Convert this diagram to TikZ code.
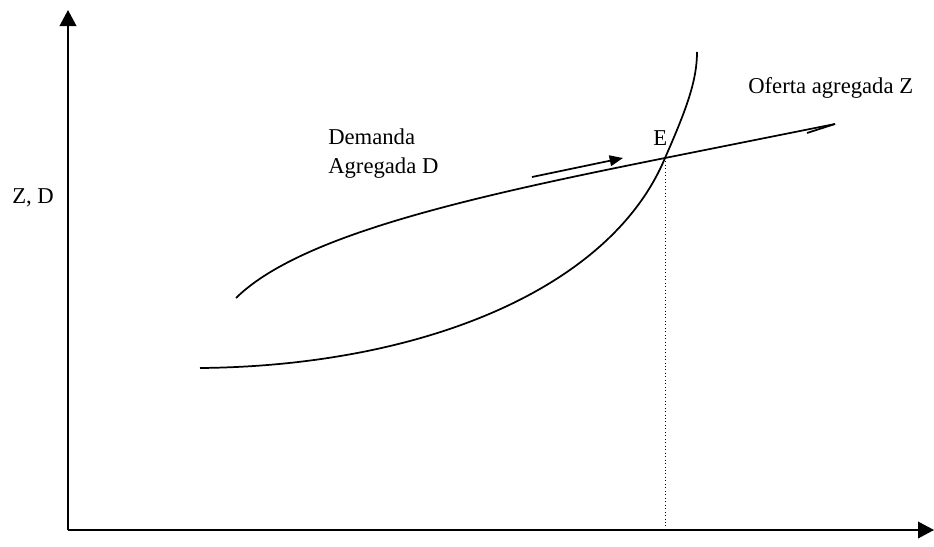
\documentclass[tikz,border=0pt]{standalone}
\usepackage{fontspec}
\setmainfont{Liberation Serif}
\usetikzlibrary{arrows.meta, positioning, calc}

\begin{document}
\begin{tikzpicture}[
    x=0.75pt, y=-0.75pt,
    axis/.style={-{Triangle[length=12pt, width=12.5pt]}, line width=1.2pt},
    curve/.style={line width=1.3pt},
    push/.style={-{Triangle[length=10pt, width=8pt]}, line width=1.3pt},
    guide/.style={dotted, line width=0.6pt},
    label/.style={inner sep=0pt, align=left, font=\fontsize{17}{21.75}\selectfont}
]
\useasboundingbox (0,0) rectangle (934,546);

% Axes
\coordinate (origin) at (68,530);
\coordinate (ytop) at (68,10);
\coordinate (xend) at (934,530);
\draw[axis] (origin) -- (ytop);
\draw[axis] (origin) -- (xend);
\draw[line width=2.2pt] (68,193) -- (68,222);
\node[label, anchor=base west] (zd) at (12,203) {Z, D};

% Equilibrium
\coordinate (E) at (665,158);
\node[label, anchor=base west] (elabel) at (653,145) {E};
\draw[guide] (E) -- (E |- origin);

% Oferta agregada Z
\coordinate (zstart) at (200,368);
\coordinate (ztop) at (697,52);
\draw[curve] (zstart) .. controls (420,366) and (610,290) .. (E)
    .. controls (687,108) and (697,80) .. (ztop);
\node[label, anchor=base west] (oferta) at (748,93) {Oferta agregada Z};

% Demanda agregada D
\coordinate (dstart) at (236,298);
\coordinate (dend) at (835,124);
\draw[curve] (dstart) .. controls (300,235) and (470,197) .. (E) -- (dend);
\draw[curve] (dend) -- ++(-28,9);
\node[label, anchor=north west] (demanda) at (328,129) {Demanda\\Agregada D};

% Shift
\coordinate (pa) at (532,177);
\coordinate (pb) at (623,158);
\draw[push] (pa) -- (pb);

\end{tikzpicture}
\end{document}
